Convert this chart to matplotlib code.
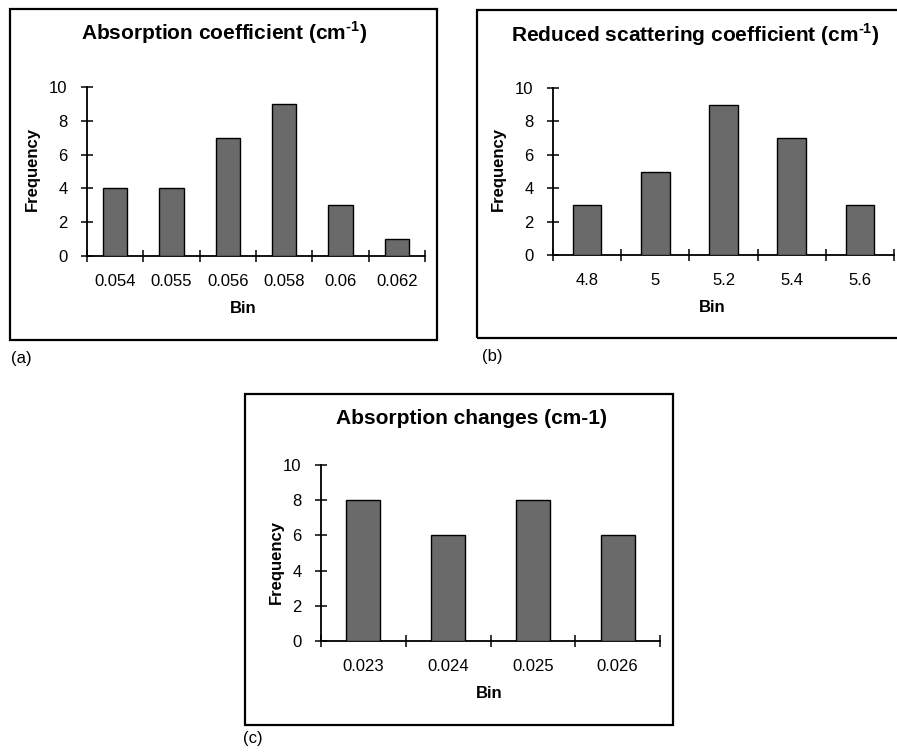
import numpy as np
import matplotlib
matplotlib.use("Agg")
import matplotlib.pyplot as plt
from matplotlib.patches import Rectangle

plt.rcParams['font.family'] = ['Liberation Sans', 'DejaVu Sans']
plt.rcParams['mathtext.fontset'] = 'custom'
plt.rcParams['mathtext.rm'] = 'Liberation Sans:bold'
plt.rcParams['mathtext.bf'] = 'Liberation Sans:bold'

# data
bins_a = ['0.054', '0.055', '0.056', '0.058', '0.06', '0.062']
freq_a = [4, 4, 7, 9, 3, 1]
bins_b = ['4.8', '5', '5.2', '5.4', '5.6']
freq_b = [3, 5, 9, 7, 3]
bins_c = ['0.023', '0.024', '0.025', '0.026']
freq_c = [8, 6, 8, 6]

W, H = 897, 754
fig = plt.figure(figsize=(W / 100, H / 100), dpi=100)


def px_text(x, y, s, **kw):
    # place text using pixel coords measured from top-left
    fig.text(x / W, 1 - y / H, s, **kw)


def frame(x0, y0, x1, y1):
    fig.patches.append(Rectangle((x0 / W, 1 - y1 / H), (x1 - x0) / W, (y1 - y0) / H,
                                 transform=fig.transFigure, fill=False,
                                 edgecolor='black', linewidth=1.6))


def histo(left, top, right, bottom, bins, freq, width):
    ax = fig.add_axes([left / W, 1 - bottom / H, (right - left) / W, (bottom - top) / H])
    n = len(bins)
    x = np.arange(n)
    ax.bar(x, freq, width=width, color='#6a6a6a', edgecolor='black', linewidth=1.0,
           zorder=3)
    ax.set_xlim(-0.5, n - 0.5)
    ax.set_ylim(0, 10)
    ax.set_yticks([0, 2, 4, 6, 8, 10])
    ax.set_xticks(np.arange(n + 1) - 0.5)
    ax.set_xticklabels([])
    ax.set_xticks(x, minor=True)
    ax.set_xticklabels(bins, minor=True)
    for s in ['top', 'right']:
        ax.spines[s].set_visible(False)
    for s in ['left', 'bottom']:
        ax.spines[s].set_linewidth(1.3)
    ax.tick_params(axis='both', which='major', direction='inout', length=8,
                   width=1.1, labelsize=12, pad=10)
    ax.tick_params(axis='x', which='minor', length=0, labelsize=12, pad=13)
    ax.set_facecolor('none')
    return ax


# (a)
frame(10, 9, 437, 340)
histo(87, 87, 425, 256, bins_a, freq_a, 0.43)
px_text(224, 33, r'Absorption coefficient (cm$^{\text{-1}}$)', fontsize=15,
        fontweight='bold', ha='center', va='center')
px_text(32, 169, 'Frequency', fontsize=12, fontweight='bold', rotation=90,
        ha='center', va='center')
px_text(243, 308, 'Bin', fontsize=12, fontweight='bold', ha='center', va='center')
px_text(11, 358, '(a)', fontsize=12, ha='left', va='center')

# (b)
frame(477, 10, 905, 338)
histo(553, 88, 894, 255, bins_b, freq_b, 0.42)
px_text(695, 35, r'Reduced scattering coefficient (cm$^{\text{-1}}$)', fontsize=15,
        fontweight='bold', ha='center', va='center')
px_text(498, 169, 'Frequency', fontsize=12, fontweight='bold', rotation=90,
        ha='center', va='center')
px_text(712, 307, 'Bin', fontsize=12, fontweight='bold', ha='center', va='center')
px_text(482, 357, '(b)', fontsize=12, ha='left', va='center')

# (c)
frame(245, 394, 673, 725)
histo(321, 465, 660, 641, bins_c, freq_c, 0.40)
px_text(472, 418, 'Absorption changes (cm-1)', fontsize=15, fontweight='bold',
        ha='center', va='center')
px_text(276, 562, 'Frequency', fontsize=12, fontweight='bold', rotation=90,
        ha='center', va='center')
px_text(489, 693, 'Bin', fontsize=12, fontweight='bold', ha='center', va='center')
px_text(243, 738, '(c)', fontsize=12, ha='left', va='center')

fig.savefig('out.png', dpi=100, facecolor='white')
